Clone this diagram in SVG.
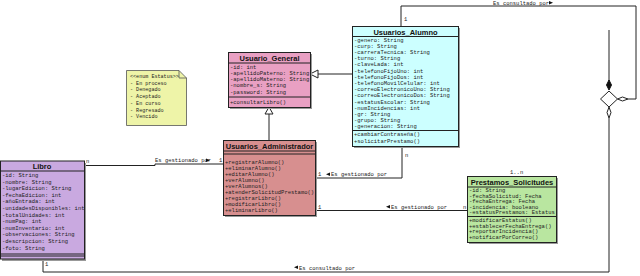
<svg xmlns="http://www.w3.org/2000/svg" width="640" height="276" viewBox="0 0 640 276">
<style>
.box{stroke:#222;stroke-width:1}
.sh{fill:#999}
.sep{stroke:#222;stroke-width:1}
.t{font-family:"Liberation Sans",Arial,sans-serif;font-weight:bold;font-size:7.5px;text-anchor:middle;fill:#111}
.a{font-family:"Liberation Mono","DejaVu Sans Mono",monospace;font-size:5.5px;fill:#222}
.n{font-family:"Liberation Mono","DejaVu Sans Mono",monospace;font-size:5.1px;fill:#222}
.l{font-family:"Liberation Mono","DejaVu Sans Mono",monospace;font-size:5.5px;fill:#222}
.c{fill:none;stroke:#222;stroke-width:1}
.hd{fill:#fff;stroke:#222;stroke-width:1}
</style>
<g id="connectors">
  <polyline class="c" points="84,165.5 155,165.5 155,164 223,164"/>
  <polyline class="c" points="315,178 402,178 402,146"/>
  <line class="c" x1="315" y1="210.5" x2="467" y2="210.5"/>
  <polyline class="c" points="401,26 401,6 636,6 636,99 628,99"/>
  <polyline class="c" points="43,259 43,272 609,272 609,118"/>
  <line class="c" x1="609" y1="30" x2="609" y2="81"/>
  <polyline class="c" points="310,74 352,74"/>
  <polyline class="c" points="269,114 269,140"/>
  <polygon class="hd" points="310,74 318,70 318,78"/>
  <polygon class="hd" points="269,107 265,114 273,114"/>
  <polygon fill="#111" stroke="#111" points="609,80 611.5,85 609,90 606.5,85"/>
  <polygon class="hd" points="609,91 617.5,99 609,107 600.5,99"/>
  <polygon class="hd" points="617.5,99 622.5,97 628,99 622.5,101"/>
  <polygon class="hd" points="609,107 611,112.5 609,118 607,112.5"/>
  <text class="l" x="86" y="163">n</text>
  <text class="l" x="155" y="162">Es gestionado por</text>
  <polygon fill="#111" points="206,158.5 210,160.3 206,162"/>
  <text class="l" x="219" y="162">1</text>
  <text class="l" x="318" y="176">1</text>
  <polygon fill="#111" points="326,174.3 330,172.5 330,176"/>
  <text class="l" x="331" y="176">Es gestionado por</text>
  <text class="l" x="405" y="157">n</text>
  <text class="l" x="318" y="208.5">1</text>
  <polygon fill="#111" points="386,206.8 390,205 390,208.5"/>
  <text class="l" x="391" y="208.5">Es gestionado por</text>
  <text class="l" x="463" y="208.5">n</text>
  <text class="l" x="404" y="21">1</text>
  <text class="l" x="493" y="4.5">Es consultado por</text>
  <polygon fill="#111" points="549,1 553,2.8 549,4.5"/>
  <text class="l" x="45" y="266">1</text>
  <polygon fill="#111" points="294,267.3 298,265.5 298,269"/>
  <text class="l" x="299" y="269.5">Es consultado por</text>
  <text class="l" x="510" y="174">1..n</text>
</g>
<g id="Libro">
  <rect class="sh" x="2" y="163" width="84" height="98"/>
  <rect class="box" x="0.5" y="161" width="84" height="98" fill="#c9a9e0"/>
  <line class="sep" x1="0.5" y1="171" x2="84.5" y2="171"/>
  <line class="sep" x1="0.5" y1="254" x2="84.5" y2="254"/>
  <line class="sep" x1="0.5" y1="256" x2="84.5" y2="256"/>
  <text class="t" x="42" y="169">Libro</text>
  <text class="a" x="2" y="177">-id: String</text>
  <text class="a" x="2" y="183.6">-nombre: String</text>
  <text class="a" x="2" y="190.2">-lugarEdicion: String</text>
  <text class="a" x="2" y="196.8">-fechaEdicion: int</text>
  <text class="a" x="2" y="203.4">-añoEntrada: int</text>
  <text class="a" x="2" y="210">-unidadesDisponibles: int</text>
  <text class="a" x="2" y="216.6">-totalUnidades: int</text>
  <text class="a" x="2" y="223.2">-numPag: int</text>
  <text class="a" x="2" y="229.8">-numInventario: int</text>
  <text class="a" x="2" y="236.4">-observaciones: String</text>
  <text class="a" x="2" y="243">-descripcion: String</text>
  <text class="a" x="2" y="249.6">-foto: String</text>
</g>
<g id="Estatus">
  <path d="M126.5,70.5 H179 L186.5,78 V125.5 H126.5 Z" fill="#eef4a8" stroke="#555" stroke-width="0.8"/>
  <path d="M179,70.5 V78 H186.5" fill="none" stroke="#555" stroke-width="0.8"/>
  <text class="n" x="130" y="78">&lt;&lt;enum Estatus&gt;&gt;</text>
  <text class="n" x="130" y="84.7">- En proceso</text>
  <text class="n" x="130" y="91.4">- Denegado</text>
  <text class="n" x="130" y="98.1">- Aceptado</text>
  <text class="n" x="130" y="104.8">- En curso</text>
  <text class="n" x="130" y="111.5">- Regresado</text>
  <text class="n" x="130" y="118.2">- Vencido</text>
</g>
<g id="Usuario_General">
  <rect class="sh" x="230" y="54" width="82" height="55"/>
  <rect class="box" x="228.5" y="52.5" width="82" height="55" fill="#e9a0c3"/>
  <line class="sep" x1="228.5" y1="63" x2="310.5" y2="63"/>
  <line class="sep" x1="228.5" y1="97" x2="310.5" y2="97"/>
  <text class="t" x="269.5" y="61">Usuario_General</text>
  <text class="a" x="230" y="68.5">-id: int</text>
  <text class="a" x="230" y="74.8">-apellidoPaterno: String</text>
  <text class="a" x="230" y="81.1">-apellidoMaterno: String</text>
  <text class="a" x="230" y="87.4">-nombre_s: String</text>
  <text class="a" x="230" y="93.7">-password: String</text>
  <text class="a" x="230" y="103.5">+consultarLibro()</text>
</g>
<g id="Usuarios_Administrador">
  <rect class="sh" x="225" y="142" width="92" height="75"/>
  <rect class="box" x="223.5" y="140.5" width="92" height="75" fill="#d78f8f"/>
  <line class="sep" x1="223.5" y1="151" x2="315.5" y2="151"/>
  <line class="sep" x1="223.5" y1="154" x2="315.5" y2="154"/>
  <text class="t" x="269.5" y="149">Usuarios_Administrador</text>
  <text class="a" x="225" y="163.5">+registrarAlumno()</text>
  <text class="a" x="225" y="169.5">+eliminarAlumno()</text>
  <text class="a" x="225" y="175.5">+editarAlumno()</text>
  <text class="a" x="225" y="181.5">+verAlumno()</text>
  <text class="a" x="225" y="187.5">+verAlumnos()</text>
  <text class="a" x="225" y="193.5">+atenderSolicitudPrestamo()</text>
  <text class="a" x="225" y="199.5">+registrarLibro()</text>
  <text class="a" x="225" y="205.5">+modificarLibro()</text>
  <text class="a" x="225" y="211.5">+eliminarLibro()</text>
</g>
<g id="Usuarios_Alumno">
  <rect class="sh" x="354" y="28" width="106" height="120"/>
  <rect class="box" x="352.5" y="26.5" width="106" height="120" fill="#ccffff"/>
  <line class="sep" x1="352.5" y1="36.5" x2="458.5" y2="36.5"/>
  <line class="sep" x1="352.5" y1="130.5" x2="458.5" y2="130.5"/>
  <text class="t" x="405.5" y="34.5">Usuarios_Alumno</text>
  <text class="a" x="354" y="41.5">-genero: String</text>
  <text class="a" x="354" y="47.7">-curp: String</text>
  <text class="a" x="354" y="53.9">-carreraTecnica: String</text>
  <text class="a" x="354" y="60.1">-turno: String</text>
  <text class="a" x="354" y="66.3">-claveLada: int</text>
  <text class="a" x="354" y="72.5">-telefonoFijoUno: int</text>
  <text class="a" x="354" y="78.7">-telefonoFijoDos: int</text>
  <text class="a" x="354" y="84.9">-telefonoMovilCelular: int</text>
  <text class="a" x="354" y="91.1">-correoElectronicoUno: String</text>
  <text class="a" x="354" y="97.3">-correoElectronicoDos: String</text>
  <text class="a" x="354" y="103.5">-estatusEscolar: String</text>
  <text class="a" x="354" y="109.7">-numIncidencias: int</text>
  <text class="a" x="354" y="115.9">-gr: String</text>
  <text class="a" x="354" y="122.1">-grupo: String</text>
  <text class="a" x="354" y="128.3">-generacion: String</text>
  <text class="a" x="354" y="136.3">+cambiarContraseña()</text>
  <text class="a" x="354" y="142.5">+solicitarPrestamo()</text>
</g>
<g id="Prestamos_Solicitudes">
  <rect class="sh" x="469" y="178" width="89" height="66"/>
  <rect class="box" x="467.5" y="176.5" width="89" height="66" fill="#b9e6a0"/>
  <line class="sep" x1="467.5" y1="187" x2="556.5" y2="187"/>
  <line class="sep" x1="467.5" y1="216.5" x2="556.5" y2="216.5"/>
  <text class="t" x="512" y="184.8">Prestamos_Solicitudes</text>
  <text class="a" x="469" y="192">-id: String</text>
  <text class="a" x="469" y="197.6">-fechaSolicitud: Fecha</text>
  <text class="a" x="469" y="203.2">-fechaEntrega: Fecha</text>
  <text class="a" x="469" y="208.8">-incidencia: booleano</text>
  <text class="a" x="469" y="214.4">-estatusPrestamos: Estatus</text>
  <text class="a" x="469" y="222">+modificarEstatus()</text>
  <text class="a" x="469" y="227.6">+establecerFechaEntrega()</text>
  <text class="a" x="469" y="233.2">+reportarIncidencia()</text>
  <text class="a" x="469" y="238.8">+notificarPorCorreo()</text>
</g>
</svg>
